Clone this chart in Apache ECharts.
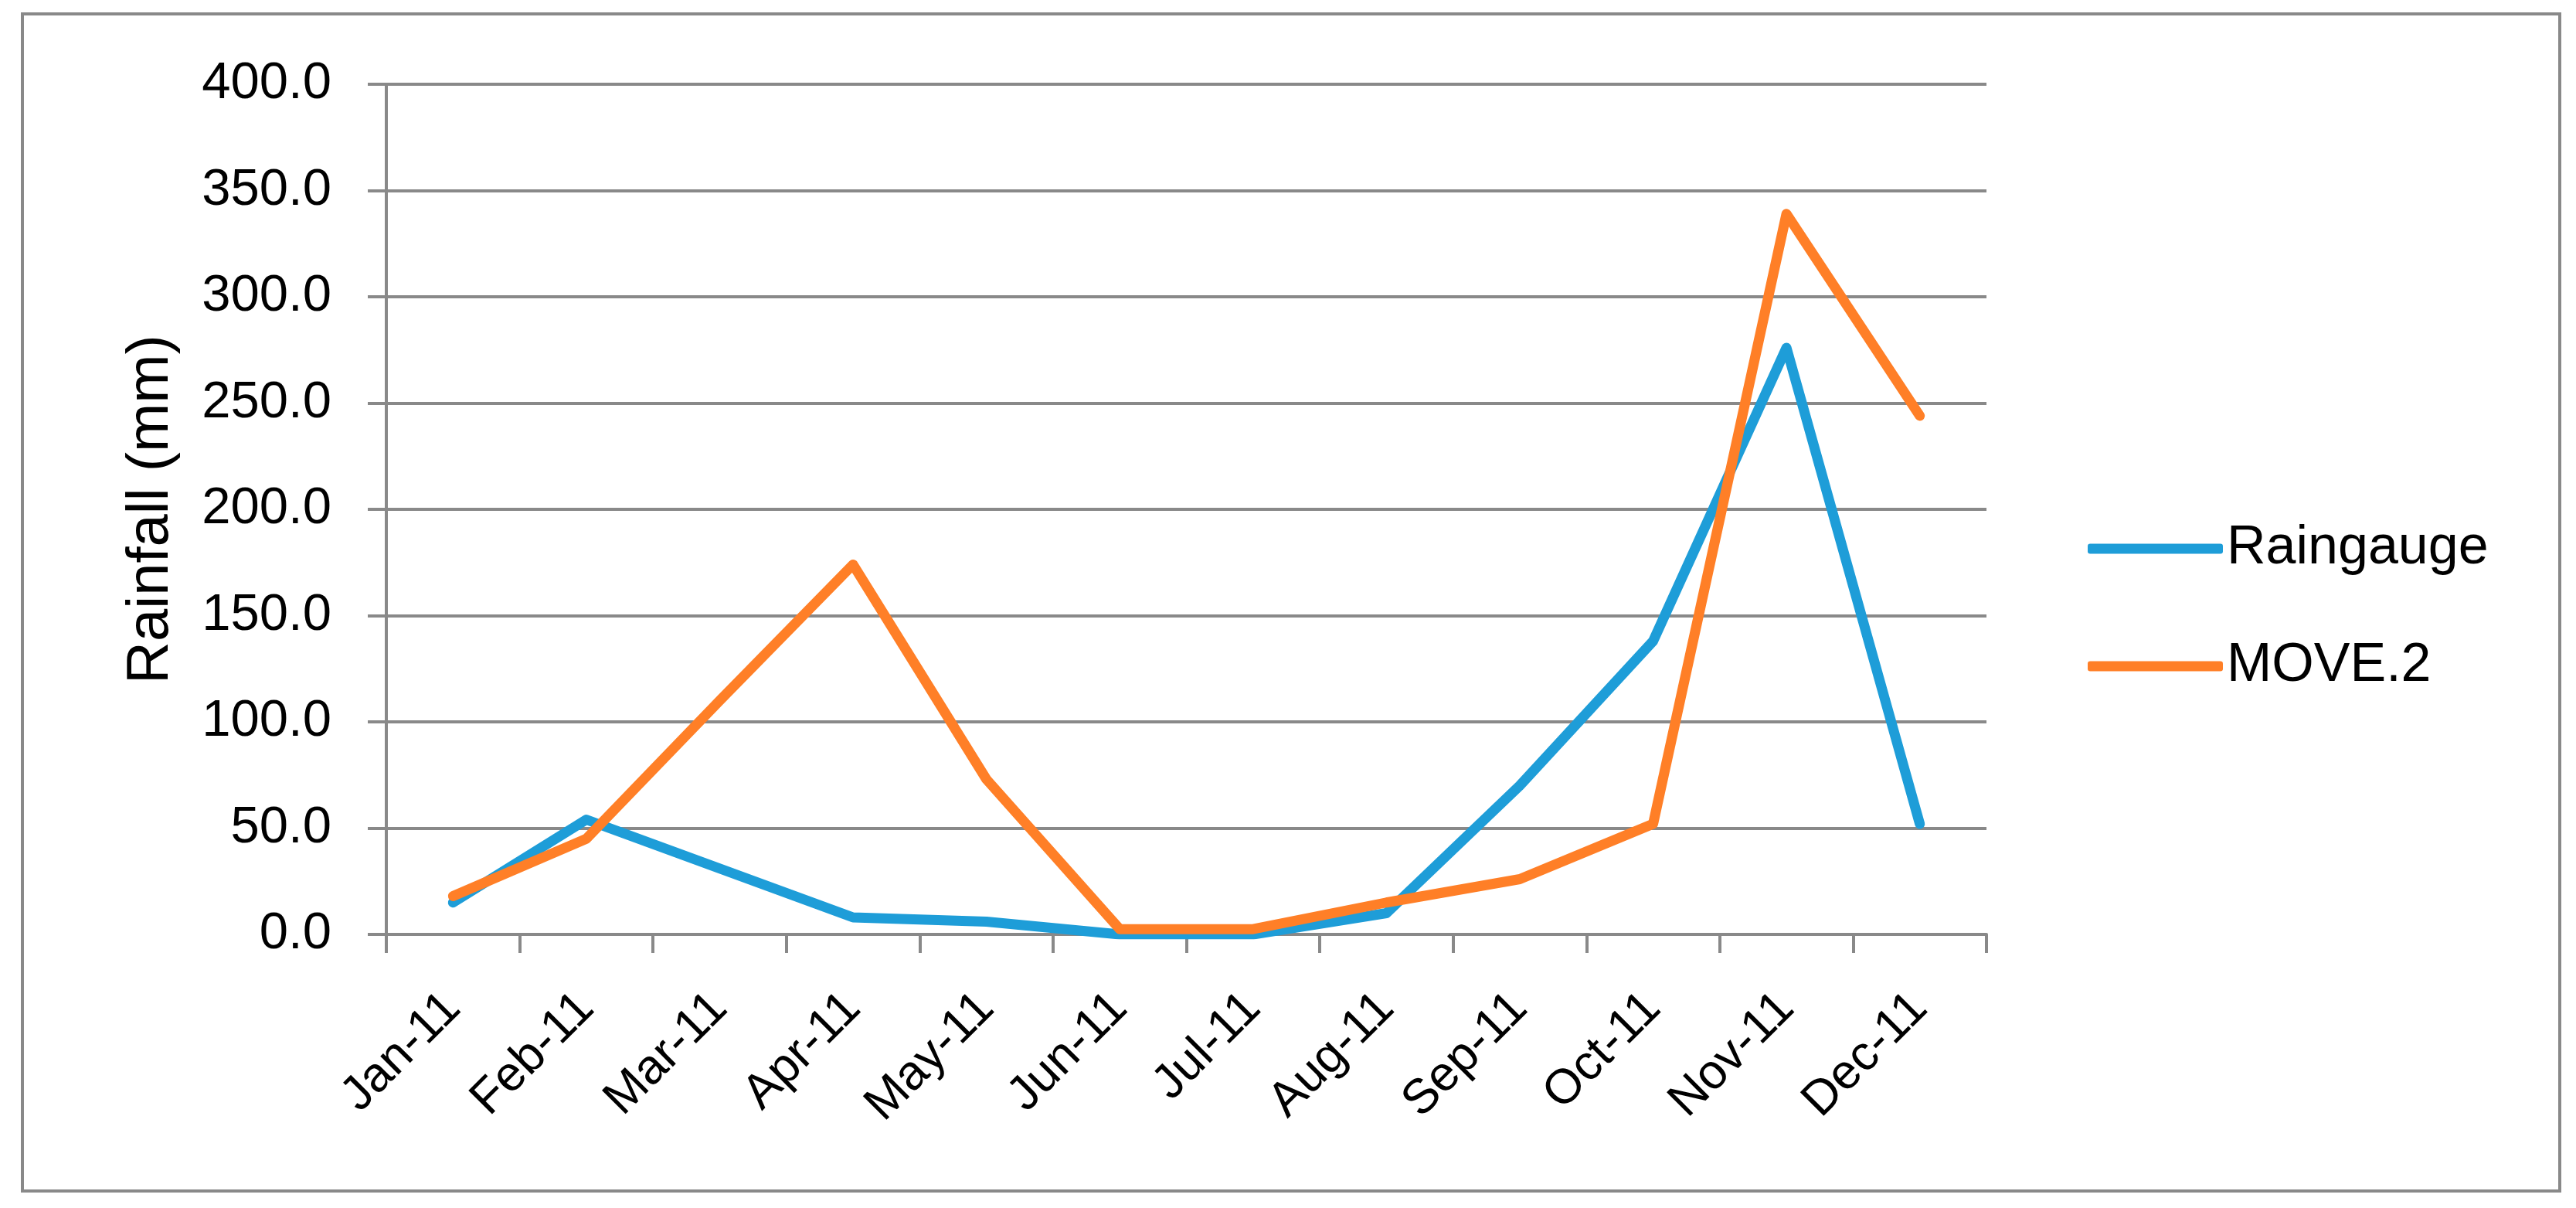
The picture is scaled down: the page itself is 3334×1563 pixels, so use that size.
<!DOCTYPE html>
<html>
<head>
<meta charset="utf-8">
<script src="https://cdn.jsdelivr.net/npm/echarts@6/dist/echarts.min.js"></script>
<style>
html,body{margin:0;padding:0;background:#fff;}
#chart{width:3334px;height:1563px;}
</style>
</head>
<body>
<div id="chart"></div>
<script>
const months = ['Jan-11','Feb-11','Mar-11','Apr-11','May-11','Jun-11','Jul-11','Aug-11','Sep-11','Oct-11','Nov-11','Dec-11'];
const raingauge = [15, 54, 31, 8, 6, 0, 0, 10, 70, 138, 276, 52];
const move2 = [18, 45, 110, 174, 73, 2.5, 2.5, 15, 26, 52, 339, 244];
const seriesNames = ['Raingauge', 'MOVE.2'];
const yTicks = {min: 0, max: 400, interval: 50};

const gray = '#898989';
const font = 'Liberation Sans';
const chart = echarts.init(document.getElementById('chart'), null, {renderer: 'canvas'});
chart.setOption({
  backgroundColor: '#ffffff',
  animation: false,
  graphic: [{
    type: 'rect',
    shape: {x: 29, y: 18, width: 3284, height: 1523},
    style: {fill: 'none', stroke: gray, lineWidth: 4},
    silent: true
  }],
  grid: {left: 500, top: 109, width: 2071, height: 1100, containLabel: false},
  legend: {
    orient: 'vertical',
    left: 2697,
    top: 670,
    icon: 'roundRect',
    itemWidth: 175,
    itemHeight: 13,
    itemGap: 82,
    textStyle: {fontFamily: font, fontSize: 70, lineHeight: 68, color: '#000'},
    data: seriesNames
  },
  xAxis: {
    type: 'category',
    data: months,
    boundaryGap: true,
    axisLine: {show: true, lineStyle: {color: gray, width: 4}},
    axisTick: {show: true, length: 24, interval: 0, lineStyle: {color: gray, width: 4}},
    axisLabel: {rotate: 45, interval: 0, margin: 86, fontFamily: font, fontSize: 63, color: '#000'},
    splitLine: {show: false}
  },
  yAxis: {
    type: 'value',
    min: yTicks.min,
    max: yTicks.max,
    interval: yTicks.interval,
    name: 'Rainfall (mm)',
    nameLocation: 'middle',
    nameRotate: 90,
    nameGap: 266,
    nameTextStyle: {fontFamily: font, fontSize: 76, color: '#000'},
    axisLine: {show: true, lineStyle: {color: gray, width: 4}},
    axisTick: {show: true, length: 24, lineStyle: {color: gray, width: 4}},
    axisLabel: {margin: 71, fontFamily: font, fontSize: 67, color: '#000', formatter: v => v.toFixed(1)},
    splitLine: {show: true, lineStyle: {color: gray, width: 4}}
  },
  series: [
    {
      name: seriesNames[0], type: 'line', data: raingauge, symbol: 'none',
      lineStyle: {color: '#1e9dd8', width: 13, cap: 'round', join: 'round'},
      itemStyle: {color: '#1e9dd8'}
    },
    {
      name: seriesNames[1], type: 'line', data: move2, symbol: 'none',
      lineStyle: {color: '#ff7f27', width: 13, cap: 'round', join: 'round'},
      itemStyle: {color: '#ff7f27'}
    }
  ]
});
</script>
</body>
</html>
